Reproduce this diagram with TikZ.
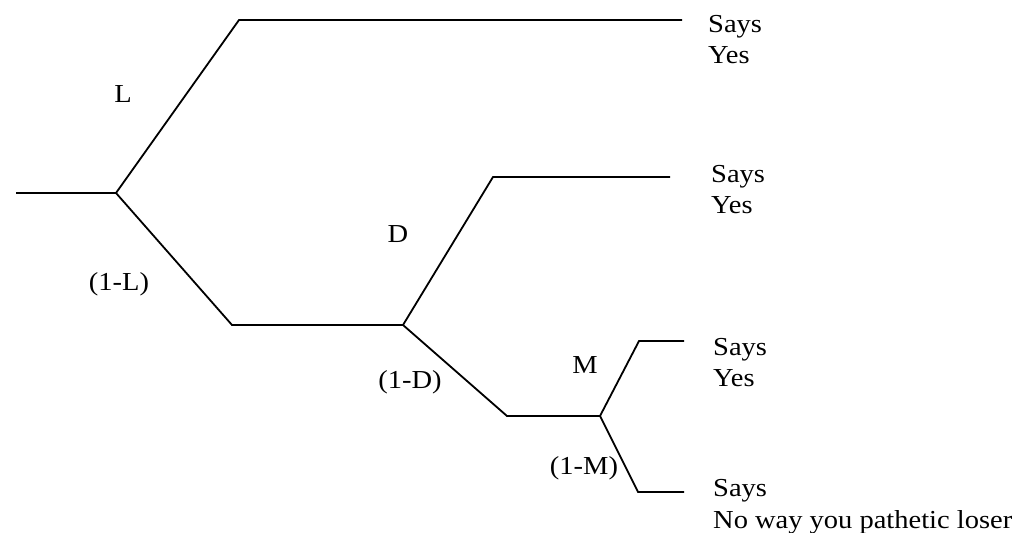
\documentclass[tikz,border=0pt]{standalone}
\usepackage{fontspec}
\setmainfont{Liberation Serif}[FakeStretch=1.1]
\begin{document}
\begin{tikzpicture}[x=1bp,y=-1bp,
  branch/.style={line width=1.8bp, line join=miter},
  prob/.style={font=\fontsize{26}{32}\selectfont, inner sep=0pt},
  outcome/.style={font=\fontsize{26}{32}\selectfont, inner sep=0pt, align=left, anchor=base west}]
\useasboundingbox (0,0) rectangle (1023,533);
% vertices
\coordinate (s0) at (16,193);
\coordinate (n1) at (116,193);
\coordinate (a1) at (239,20);
\coordinate (a2) at (682,20);
\coordinate (b1) at (232,325);
\coordinate (d)  at (403,325);
\coordinate (c1) at (493,177);
\coordinate (c2) at (670,177);
\coordinate (e1) at (507,416);
\coordinate (m)  at (600,416);
\coordinate (f1) at (639,341);
\coordinate (f2) at (684,341);
\coordinate (g1) at (638,492);
\coordinate (g2) at (684,492);
% branches
\draw[branch] (s0) -- (n1);
\draw[branch] (n1) -- (a1) -- (a2);
\draw[branch] (n1) -- (b1) -- (d);
\draw[branch] (d) -- (c1) -- (c2);
\draw[branch] (d) -- (e1) -- (m);
\draw[branch] (m) -- (f1) -- (f2);
\draw[branch] (m) -- (g1) -- (g2);
% probabilities
\node[prob] (pL)  at (123,94)  {L};
\node[prob] (pnL) at (119,284) {(1-L)};
\node[prob] (pD)  at (398,234) {D};
\node[prob] (pnD) at (410,382) {(1-D)};
\node[prob] (pM)  at (585,365) {M};
\node[prob] (pnM) at (584,468) {(1-M)};
% outcomes (anchor = baseline of last line)
\node[outcome] (o1) at (708,64)  {Says\\Yes};
\node[outcome] (o2) at (711,214) {Says\\Yes};
\node[outcome] (o3) at (713,387) {Says\\Yes};
\node[outcome] (o4) at (713,528) {Says\\No way you pathetic loser};
\end{tikzpicture}
\end{document}
